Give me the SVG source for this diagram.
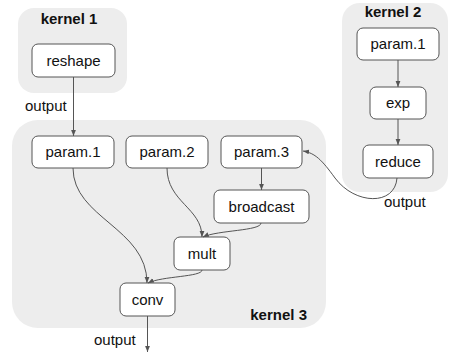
<svg xmlns="http://www.w3.org/2000/svg" width="449" height="352" viewBox="0 0 449 352">
<style>
.cluster{fill:#ededed;stroke:none}
.node rect{fill:#fff;stroke:#555;stroke-width:1}
text{font-family:"Liberation Sans",Arial,sans-serif;font-size:15px;fill:#111}
.node text{text-anchor:middle}
.title{font-weight:bold}
.edge{fill:none;stroke:#555;stroke-width:1;marker-end:url(#arr)}
</style>
<defs>
<marker id="arr" viewBox="0 0 10 10" refX="10" refY="5" markerWidth="6" markerHeight="6" markerUnits="userSpaceOnUse" orient="auto">
<path d="M0,1 L10,5 L0,9 z" fill="#555"/>
</marker>
</defs>
<g id="kernel1">
<rect class="cluster" x="18" y="8" width="109" height="85" rx="16"/>
<text class="title" x="69" y="24" text-anchor="middle">kernel 1</text>
</g>
<g id="kernel2">
<rect class="cluster" x="342" y="3" width="106" height="189" rx="18"/>
<text class="title" x="393" y="17" text-anchor="middle">kernel 2</text>
</g>
<g id="kernel3">
<rect class="cluster" x="12" y="120" width="314" height="208" rx="26"/>
<text class="title" x="307" y="320" text-anchor="end">kernel 3</text>
</g>
<g id="labels">
<text x="25" y="111">output</text>
<text x="384" y="207">output</text>
<text x="94" y="345">output</text>
</g>
<g id="reshape" class="node"><rect x="32" y="44" width="83" height="33" rx="6"/><text x="73.5" y="66">reshape</text></g>
<g id="k2-param1" class="node"><rect x="357" y="28" width="82" height="32" rx="6"/><text x="398" y="49">param.1</text></g>
<g id="exp" class="node"><rect x="370" y="87" width="56" height="32" rx="6"/><text x="398" y="108">exp</text></g>
<g id="reduce" class="node"><rect x="363" y="145" width="70" height="33" rx="6"/><text x="398" y="167">reduce</text></g>
<g id="k3-param1" class="node"><rect x="32" y="136" width="82" height="32" rx="6"/><text x="73" y="157">param.1</text></g>
<g id="k3-param2" class="node"><rect x="126" y="136" width="82" height="32" rx="6"/><text x="167" y="157">param.2</text></g>
<g id="k3-param3" class="node"><rect x="221" y="136" width="81" height="32" rx="6"/><text x="261.5" y="157">param.3</text></g>
<g id="broadcast" class="node"><rect x="214" y="190" width="95" height="33" rx="6"/><text x="261.5" y="212">broadcast</text></g>
<g id="mult" class="node"><rect x="174" y="237" width="56" height="33" rx="6"/><text x="202" y="259">mult</text></g>
<g id="conv" class="node"><rect x="120" y="283" width="55" height="33" rx="6"/><text x="147.5" y="305">conv</text></g>
<g id="connectors">
<path class="edge" d="M73.5,77 L73.5,136"/>
<path class="edge" d="M398,60 L398,87"/>
<path class="edge" d="M398,119 L398,145"/>
<path class="edge" d="M261.5,168 L261.5,190"/>
<path class="edge" d="M397,178 C395,206 355,205 335,178 C322,160 315,153 303,151"/>
<path class="edge" d="M73,168 C73,218 147,228 147,283"/>
<path class="edge" d="M167,168 C167,202 202,208 202,237"/>
<path class="edge" d="M261,223 C261,231 218,230 203,237"/>
<path class="edge" d="M202,270 C202,277 162,276 148,283"/>
<path class="edge" d="M147.5,316 L147.5,352"/>
</g>
</svg>
